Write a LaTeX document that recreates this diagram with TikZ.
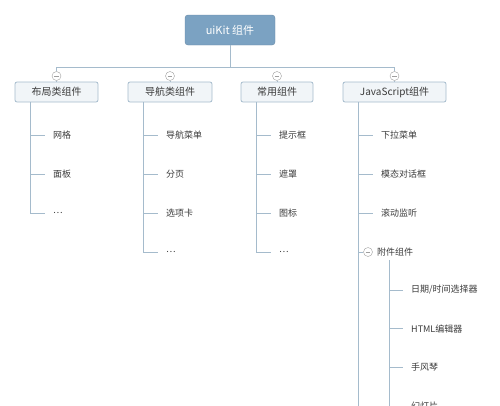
\documentclass[tikz,border=0pt]{standalone}
\usepackage{fontspec}
\setmainfont{Noto Sans CJK SC}
\usetikzlibrary{positioning,calc}
\definecolor{kitblue}{HTML}{7BA2C2}
\definecolor{wire}{HTML}{A5BBCC}
\definecolor{boxfill}{HTML}{F1F5F8}
\definecolor{ink}{HTML}{3A3A3A}
\newcommand{\etc}{…}
\tikzset{
  kitroot/.style={rectangle, rounded corners=3pt, draw=kitblue!85!black, fill=kitblue,
                  text=white, minimum width=90pt, minimum height=30pt,
                  font=\fontsize{11}{13}\selectfont},
  cat/.style={rectangle, rounded corners=2pt, draw=wire, line width=0.8pt, fill=boxfill,
              text=ink, minimum height=20pt, font=\fontsize{10}{12}\selectfont},
  leaf/.style={anchor=west, inner xsep=0pt, text=ink, font=\fontsize{9}{11}\selectfont},
  fold/.style={circle, draw=gray!75, fill=white, minimum size=9pt, inner sep=0pt,
               path picture={\draw[gray!75] ([xshift=-2.4pt]path picture bounding box.center)
                 -- ([xshift=2.4pt]path picture bounding box.center);}},
  conn/.style={draw=wire, line width=0.9pt},
}
\begin{document}
\begin{tikzpicture}[x=1pt, y=-1pt]
  \useasboundingbox (0,0) rectangle (500,405);
  \clip (0,0) rectangle (500,405);
  \node[kitroot] (kit) at (230,30) {uiKit 组件};
  % categories
  \node[cat, minimum width=83pt] (c1) at (56.5,92) {布局类组件};
  \node[cat, minimum width=84pt] (c2) at (170,92) {导航类组件};
  \node[cat, minimum width=72pt] (c3) at (277,92) {常用组件};
  \node[cat, minimum width=103pt] (c4) at (394.5,92) {JavaScript组件};
  \foreach \i in {1,2,3,4}
    \node[fold] (f\i) at (c\i.north |- 0,76) {};
  \coordinate (bus) at (230,67);
  \draw[conn] (kit) -- (bus);
  \draw[conn] (f1) -- (f1 |- bus) -- (f4 |- bus) -- (f4);
  \foreach \i in {1,2,3,4}
    \draw[conn] (f\i) -- (c\i);
  % trunks
  \coordinate (t1) at (30,102);
  \coordinate (t2) at (143,102);
  \coordinate (t3) at (256,102);
  \coordinate (t4) at (358,102);
  \foreach \txt [count=\k] in {网格,面板,\etc}
    \node[leaf] (a\k) at (53,{135+39*(\k-1)}) {\txt};
  \foreach \txt [count=\k] in {导航菜单,分页,选项卡,\etc}
    \node[leaf] (b\k) at (166,{135+39*(\k-1)}) {\txt};
  \foreach \txt [count=\k] in {提示框,遮罩,图标,\etc}
    \node[leaf] (d\k) at (279,{135+39*(\k-1)}) {\txt};
  \foreach \txt [count=\k] in {下拉菜单,模态对话框,滚动监听}
    \node[leaf] (e\k) at (381,{135+39*(\k-1)}) {\txt};
  \foreach \k in {1,2,3}
    \draw[conn] (t1) |- ([xshift=-8pt]a\k.west);
  \foreach \k in {1,2,3,4} {
    \draw[conn] (t2) |- ([xshift=-8pt]b\k.west);
    \draw[conn] (t3) |- ([xshift=-8pt]d\k.west);
  }
  \foreach \k in {1,2,3}
    \draw[conn] (t4) |- ([xshift=-8pt]e\k.west);
  \coordinate (t4end) at (358,420);
  \draw[conn] (t4) -- (t4end);
  % attachments
  \node[fold] (f5) at (368,252) {};
  \node[leaf] (e4) at (377,252) {附件组件};
  \draw[conn] (t4 |- f5) -- (f5);
  \coordinate (t5) at (389,260);
  \foreach \txt [count=\k] in {日期/时间选择器,HTML编辑器,手风琴,幻灯片}
    \node[leaf] (g\k) at (411,{290+38.8*(\k-1)}) {\txt};
  \foreach \k in {1,2,3,4}
    \draw[conn] (t5) |- ([xshift=-8pt]g\k.west);
  \draw[conn] (t5) -- (t5 |- 0,420);
\end{tikzpicture}
\end{document}
